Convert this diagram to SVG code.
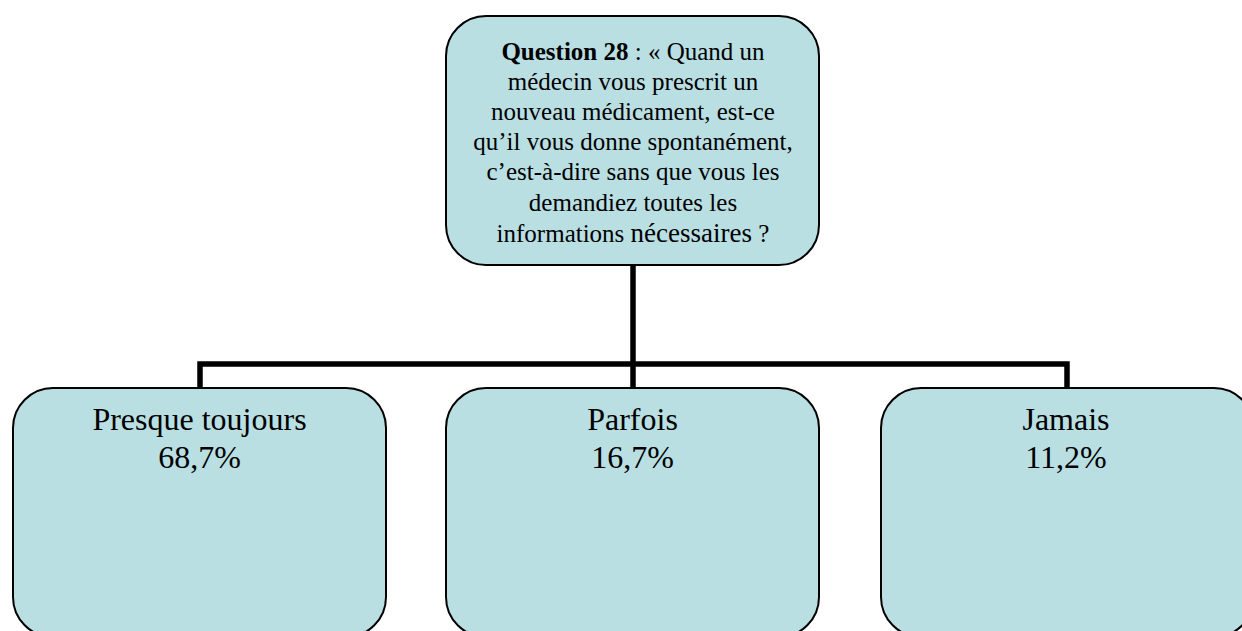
<svg xmlns="http://www.w3.org/2000/svg" width="1242" height="631" viewBox="0 0 1242 631">
<style>
.box{fill:#b9dfe3;stroke:#000;stroke-width:2}
.t{font-family:"Liberation Serif","Times New Roman",serif;fill:#000;text-anchor:middle}
.q{font-size:25px}
.b{font-size:32px}
.conn{fill:none;stroke:#000;stroke-width:5.5;stroke-linecap:butt;stroke-linejoin:miter}
</style>
<rect width="1242" height="631" fill="#fff"/>
<g id="connectors">
<path class="conn" d="M633 265 V388"/>
<path class="conn" d="M200 388 V364 H1067 V388"/>
</g>
<g id="question">
<rect class="box" x="446" y="16" width="373" height="249" rx="40" ry="40"/>
<text class="t q" x="633" y="59.5"><tspan font-weight="bold">Question 28</tspan> : « Quand un</text>
<text class="t q" x="633" y="89.5">médecin vous prescrit un</text>
<text class="t q" x="633" y="119.5">nouveau médicament, est-ce</text>
<text class="t q" x="633" y="150">qu’il vous donne spontanément,</text>
<text class="t q" x="633" y="180">c’est-à-dire sans que vous les</text>
<text class="t q" x="633" y="211">demandiez toutes les</text>
<text class="t q" x="633" y="242">informations <tspan font-size="27px">nécessaires</tspan> ?</text>
</g>
<g id="presque">
<rect class="box" x="13" y="388" width="373" height="249" rx="40" ry="40"/>
<text class="t b" x="199.5" y="430">Presque toujours</text>
<text class="t b" x="199.5" y="468">68,7%</text>
</g>
<g id="parfois">
<rect class="box" x="446" y="388" width="373" height="249" rx="40" ry="40"/>
<text class="t b" x="632.5" y="430">Parfois</text>
<text class="t b" x="632.5" y="468">16,7%</text>
</g>
<g id="jamais">
<rect class="box" x="881" y="388" width="373" height="249" rx="40" ry="40"/>
<text class="t b" x="1066" y="430">Jamais</text>
<text class="t b" x="1066" y="468">11,2%</text>
</g>
</svg>
